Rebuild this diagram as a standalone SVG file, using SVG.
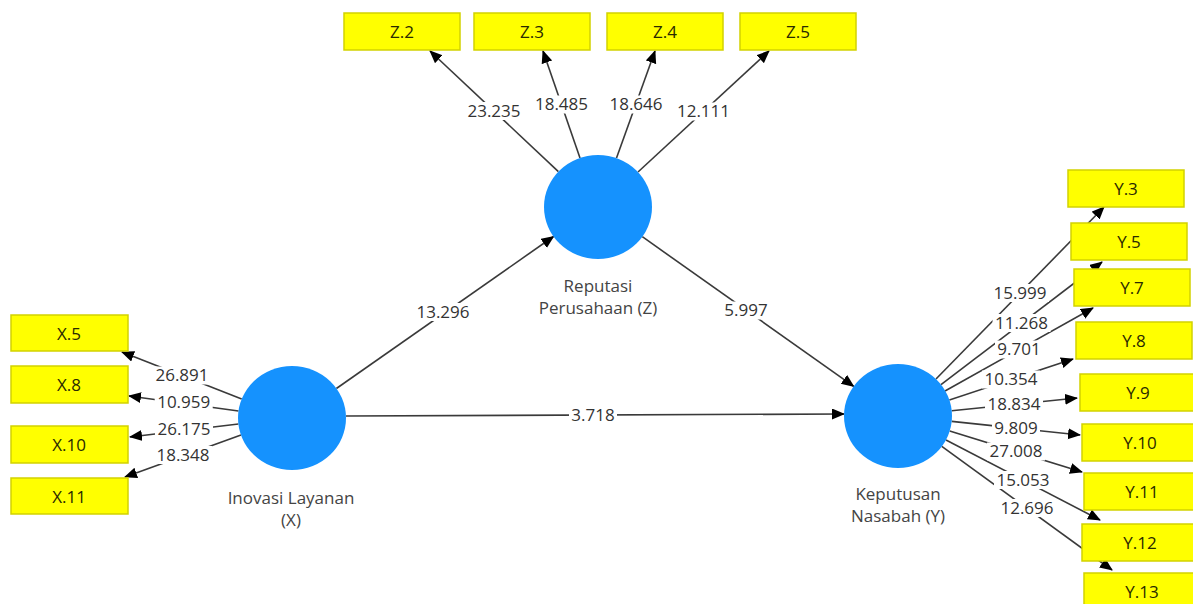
<svg xmlns="http://www.w3.org/2000/svg" width="1193" height="604" viewBox="0 0 1193 604">
<style>
.ln{stroke:#3a3a3a;stroke-width:1.6;fill:none;marker-end:url(#ah)}
.lb{fill:#ffffff}
.lt{font-family:"Open Sans","Liberation Sans",sans-serif;font-size:17px;fill:#333;text-anchor:middle;dominant-baseline:central}
.box{fill:#ffff00;stroke:#d2d200;stroke-width:1.5}
.bt{font-family:"Open Sans","Liberation Sans",sans-serif;font-size:17px;fill:#2a2a00;text-anchor:middle;dominant-baseline:central}
.lv{fill:#1592fe}
.nt{font-family:"Open Sans","Liberation Sans",sans-serif;font-size:17px;fill:#444;text-anchor:middle;dominant-baseline:central}
</style>
<defs>
<marker id="ah" markerUnits="userSpaceOnUse" markerWidth="14" markerHeight="12" refX="12" refY="5.5" orient="auto">
<path d="M0,0 L13,5.5 L0,11 z" fill="#000"/>
</marker>
</defs>
<rect width="1193" height="604" fill="#fff"/>
<g id="connectors">
<line class="ln" x1="558.4" y1="171.6" x2="430" y2="51"/>
<line class="ln" x1="580" y1="158" x2="543" y2="51"/>
<line class="ln" x1="616.5" y1="158" x2="655" y2="51"/>
<line class="ln" x1="638" y1="172" x2="769" y2="51"/>
<line class="ln" x1="241.7" y1="399" x2="122" y2="352"/>
<line class="ln" x1="238.5" y1="411" x2="129" y2="396"/>
<line class="ln" x1="238.4" y1="424" x2="130" y2="437"/>
<line class="ln" x1="241" y1="435" x2="125" y2="477"/>
<line class="ln" x1="936" y1="379" x2="1104" y2="207"/>
<line class="ln" x1="941" y1="384.7" x2="1102" y2="262"/>
<line class="ln" x1="945" y1="391" x2="1093" y2="308"/>
<line class="ln" x1="949.4" y1="400" x2="1073" y2="359"/>
<line class="ln" x1="951.7" y1="410.8" x2="1077" y2="398"/>
<line class="ln" x1="951.7" y1="421.4" x2="1080" y2="435"/>
<line class="ln" x1="949.7" y1="431" x2="1082" y2="472"/>
<line class="ln" x1="946" y1="440" x2="1100" y2="520"/>
<line class="ln" x1="941.8" y1="446.4" x2="1112" y2="570"/>
<line class="ln" x1="336.4" y1="388.5" x2="553.5" y2="236.5"/>
<line class="ln" x1="642.3" y1="236.7" x2="853.7" y2="386.3"/>
<line class="ln" x1="346" y1="416" x2="844" y2="414"/>
<g id="edge-labels">
<rect class="lb" x="465" y="102" width="58" height="18"/><text class="lt" x="494" y="110">23.235</text>
<rect class="lb" x="532.5" y="95.5" width="58" height="18"/><text class="lt" x="561.5" y="103.5">18.485</text>
<rect class="lb" x="607" y="95.5" width="58" height="18"/><text class="lt" x="636" y="103.5">18.646</text>
<rect class="lb" x="674.5" y="102.5" width="58" height="18"/><text class="lt" x="703.5" y="110.5">12.111</text>
<rect class="lb" x="153" y="366.5" width="58" height="18"/><text class="lt" x="182" y="374.5">26.891</text>
<rect class="lb" x="154.7" y="393.5" width="58" height="18"/><text class="lt" x="183.7" y="401.5">10.959</text>
<rect class="lb" x="155" y="420.5" width="58" height="18"/><text class="lt" x="184" y="428.5">26.175</text>
<rect class="lb" x="154" y="446" width="58" height="18"/><text class="lt" x="183" y="454">18.348</text>
<rect class="lb" x="991" y="284" width="58" height="18"/><text class="lt" x="1020" y="292">15.999</text>
<rect class="lb" x="992.5" y="314" width="58" height="18"/><text class="lt" x="1021.5" y="322">11.268</text>
<rect class="lb" x="995" y="340.5" width="48" height="18"/><text class="lt" x="1019" y="348.5">9.701</text>
<rect class="lb" x="982" y="370.5" width="58" height="18"/><text class="lt" x="1011" y="378.5">10.354</text>
<rect class="lb" x="985" y="395" width="58" height="18"/><text class="lt" x="1014" y="403">18.834</text>
<rect class="lb" x="992" y="419" width="48" height="18"/><text class="lt" x="1016" y="427">9.809</text>
<rect class="lb" x="987" y="442.5" width="58" height="18"/><text class="lt" x="1016" y="450.5">27.008</text>
<rect class="lb" x="994" y="471" width="58" height="18"/><text class="lt" x="1023" y="479">15.053</text>
<rect class="lb" x="998" y="499" width="58" height="18"/><text class="lt" x="1027" y="507">12.696</text>
<rect class="lb" x="414" y="303" width="58" height="18"/><text class="lt" x="443" y="311">13.296</text>
<rect class="lb" x="722" y="301.5" width="48" height="18"/><text class="lt" x="746" y="309.5">5.997</text>
<rect class="lb" x="569" y="406" width="48" height="18"/><text class="lt" x="593" y="414">3.718</text>
</g>
</g>
<g id="reputasi">
<ellipse class="lv" cx="598" cy="207" rx="54" ry="52"/>
<text class="nt" x="598" y="285">Reputasi</text>
<text class="nt" x="598" y="307">Perusahaan (Z)</text>
</g>
<g id="inovasi">
<ellipse class="lv" cx="292" cy="418" rx="54" ry="52"/>
<text class="nt" x="291" y="497">Inovasi Layanan</text>
<text class="nt" x="291" y="519">(X)</text>
</g>
<g id="keputusan">
<ellipse class="lv" cx="898" cy="416" rx="54" ry="52"/>
<text class="nt" x="898" y="493">Keputusan</text>
<text class="nt" x="898" y="515">Nasabah (Y)</text>
</g>
<g id="Z2"><rect class="box" x="344" y="13" width="116" height="37"/><text class="bt" x="402" y="31">Z.2</text></g>
<g id="Z3"><rect class="box" x="474" y="13" width="116" height="37"/><text class="bt" x="532" y="31">Z.3</text></g>
<g id="Z4"><rect class="box" x="607" y="13" width="116" height="37"/><text class="bt" x="665" y="31">Z.4</text></g>
<g id="Z5"><rect class="box" x="740" y="13" width="116" height="37"/><text class="bt" x="798" y="31">Z.5</text></g>
<g id="X5"><rect class="box" x="11" y="315" width="117" height="36"/><text class="bt" x="69" y="333">X.5</text></g>
<g id="X8"><rect class="box" x="11" y="366" width="117" height="37"/><text class="bt" x="69" y="384">X.8</text></g>
<g id="X10"><rect class="box" x="11" y="426" width="117" height="37"/><text class="bt" x="69" y="444">X.10</text></g>
<g id="X11"><rect class="box" x="11" y="478" width="117" height="36"/><text class="bt" x="69" y="496">X.11</text></g>
<g id="Y3"><rect class="box" x="1068" y="170" width="116" height="37"/><text class="bt" x="1126" y="188">Y.3</text></g>
<g id="Y5"><rect class="box" x="1071" y="223" width="116" height="37"/><text class="bt" x="1129" y="241">Y.5</text></g>
<g id="Y7"><rect class="box" x="1074" y="269" width="116" height="37"/><text class="bt" x="1132" y="287">Y.7</text></g>
<g id="Y8"><rect class="box" x="1076" y="322" width="116" height="37"/><text class="bt" x="1134" y="340">Y.8</text></g>
<g id="Y9"><rect class="box" x="1080" y="374" width="116" height="37"/><text class="bt" x="1138" y="392">Y.9</text></g>
<g id="Y10"><rect class="box" x="1082" y="424" width="116" height="37"/><text class="bt" x="1140" y="442">Y.10</text></g>
<g id="Y11"><rect class="box" x="1084" y="473" width="116" height="37"/><text class="bt" x="1142" y="491">Y.11</text></g>
<g id="Y12"><rect class="box" x="1082" y="524" width="116" height="37"/><text class="bt" x="1140" y="542">Y.12</text></g>
<g id="Y13"><rect class="box" x="1084" y="573" width="116" height="37"/><text class="bt" x="1142" y="591">Y.13</text></g>
</svg>
